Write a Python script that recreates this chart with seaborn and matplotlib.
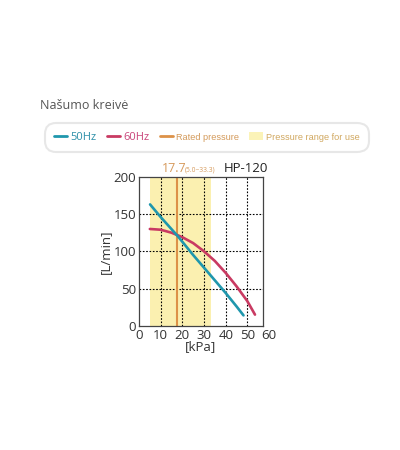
import matplotlib
matplotlib.use('Agg')

import numpy as np
import pandas as pd
import matplotlib.pyplot as plt
import seaborn as sns
from matplotlib.lines import Line2D
from matplotlib.patches import Patch

# ======================================================================
# DATA
# ======================================================================

kpa_50 = [5.1, 10, 17.7, 25, 30, 35, 40, 45, 48.2]
flow_50 = [163, 146, 121, 95, 78, 61, 44, 26, 14]

kpa_60 = [5, 10, 15, 20, 25, 30, 35, 40, 45, 50, 53.5]
flow_60 = [130, 129, 125, 119, 111, 100, 87, 71, 53, 33, 15]

rated = 17.7
use_range = (5.0, 33.3)

x_ticks = [0, 10, 20, 30, 40, 50]
y_ticks = [0, 50, 100, 150, 200]

c50 = '#1f97ad'
c60 = '#c93a62'
c_rated = '#dd9248'
c_band = '#fbf0b0'

# ======================================================================
# PLOT
# ======================================================================

sns.set_theme(style='white')
plt.rcParams['font.family'] = ['Open Sans', 'DejaVu Sans']

fig = plt.figure(figsize=(4, 4.5), dpi=100)
ax = fig.add_axes([0.3475, 0.276, 0.31, 0.331])

ax.axvspan(use_range[0], use_range[1], color=c_band, zorder=0, lw=0)

for v in x_ticks[1:]:
    ax.axvline(v, color='black', linestyle=(0, (1.5, 1.5)), lw=0.8, zorder=1)
for v in y_ticks[1:-1]:
    ax.axhline(v, color='black', linestyle=(0, (1.5, 1.5)), lw=0.8, zorder=1)

ax.axvline(rated, color=c_rated, lw=1.5, zorder=2)

df50 = pd.DataFrame({'kPa': kpa_50, 'flow': flow_50})
df60 = pd.DataFrame({'kPa': kpa_60, 'flow': flow_60})
sns.lineplot(data=df60, x='kPa', y='flow', color=c60, lw=1.9, ax=ax, zorder=3)
sns.lineplot(data=df50, x='kPa', y='flow', color=c50, lw=1.9, ax=ax, zorder=4)

ax.set_xlim(0, 57.2)
ax.set_ylim(0, 200)
ax.set_xticks(x_ticks)
ax.set_yticks(y_ticks)
ax.tick_params(labelsize=9.5, length=0, pad=2, colors='#333333')
ax.text(60, -4, '60', ha='center', va='top', fontsize=9.5, color='#333333',
        transform=ax.transData, clip_on=False)

ax.set_xlabel('[kPa]', fontsize=9.5, labelpad=-1, color='#333333')
ax.set_ylabel('[L/min]', fontsize=9.5, labelpad=1, color='#333333')

for s in ax.spines.values():
    s.set_color('#444444')
    s.set_linewidth(0.9)

ax.text(10.5, 203, '17.7', color='#d69a5c', fontsize=9, ha='left', va='bottom')
ax.text(21.2, 204, '(5.0~33.3)', color='#d69a5c', fontsize=4.8, ha='left', va='bottom')
ax.text(59.5, 203, 'HP-120', color='#222222', fontsize=9.5, ha='right', va='bottom',
        clip_on=False)

fig.text(0.1, 0.765, 'Našumo kreivė', fontsize=9, color='#555555', ha='left', va='center')

handles = [
    Line2D([0], [0], color=c50, lw=2),
    Line2D([0], [0], color=c60, lw=2),
    Line2D([0], [0], color=c_rated, lw=2),
    Patch(facecolor='#fbf3b8', edgecolor='none'),
]
labels = ['50Hz', '60Hz', 'Rated pressure', 'Pressure range for use']
leg = fig.legend(handles, labels, loc='center', bbox_to_anchor=(0.517, 0.694),
                 ncol=4, fontsize=8, frameon=True, fancybox=True,
                 handlelength=1.2, handletextpad=0.3, columnspacing=0.9,
                 borderpad=0.55, borderaxespad=0)
leg.get_frame().set_edgecolor('#e2e2e2')
leg.get_frame().set_linewidth(1.5)
leg.get_frame().set_boxstyle('round', pad=0.25, rounding_size=1.0)
for t, c in zip(leg.get_texts(), ['#2c8fa8', '#c9457a', '#d49a5a', '#d1a860']):
    t.set_color(c)
for t in leg.get_texts()[2:]:
    t.set_family(['Liberation Sans', 'DejaVu Sans'])
    t.set_fontsize(6.6)

fig.savefig('out.png', dpi=100)
